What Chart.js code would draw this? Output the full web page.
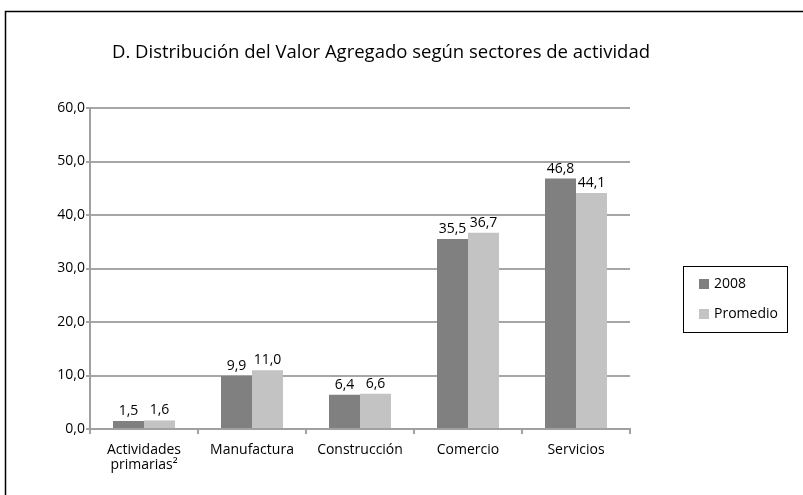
<!DOCTYPE html>
<html><head><meta charset="utf-8">
<script src="https://cdn.jsdelivr.net/npm/chart.js@4/dist/chart.umd.min.js"></script>
<style>html,body{margin:0;padding:0;background:#fff}#wrap{position:relative;width:803px;height:495px}</style>
</head><body><div id="wrap"><canvas id="c" width="803" height="495"></canvas></div>
<script>
const titleText = "D. Distribución del Valor Agregado según sectores de actividad";
const categories = [["Actividades","primarias²"],"Manufactura","Construcción","Comercio","Servicios"];
const series2008 = [1.5, 9.9, 6.4, 35.5, 46.8];
const seriesProm = [1.6, 11.0, 6.6, 36.7, 44.1];
const seriesNames = ["2008","Promedio"];
const yMin = 0, yMax = 60, yStep = 10;

const FONT = "'Open Sans', 'Liberation Sans', sans-serif";
const fmt = v => v.toFixed(1).replace('.', ',');

const extras = {
  id: 'extras',
  beforeDraw(chart){
    const ctx = chart.ctx;
    ctx.save();
    ctx.fillStyle = '#fff';
    ctx.fillRect(0,0,chart.width,chart.height);
    ctx.strokeStyle = '#000'; ctx.lineWidth = 1.5;
    ctx.strokeRect(5.5, 11.5, 900, 600);
    ctx.restore();
  },
  afterDraw(chart){
    const ctx = chart.ctx;
    ctx.save();
    // title
    ctx.fillStyle = '#000';
    ctx.font = "18.5px " + FONT;
    ctx.textAlign = 'center'; ctx.textBaseline = 'middle';
    ctx.fillText(titleText, 381, 53);
    // data labels
    ctx.font = "14px " + FONT;
    ctx.textBaseline = 'bottom';
    chart.data.datasets.forEach((ds, di) => {
      chart.getDatasetMeta(di).data.forEach((bar, i) => {
        ctx.fillText(fmt(ds.data[i]), bar.x, bar.y - 3);
      });
    });
    // legend
    ctx.strokeStyle = '#000'; ctx.lineWidth = 1;
    ctx.strokeRect(683.5, 266.5, 104, 66);
    ctx.textAlign = 'left'; ctx.textBaseline = 'middle';
    ctx.font = "14px " + FONT;
    chart.data.datasets.forEach((ds, di) => {
      const y = 284 + di*30;
      ctx.fillStyle = ds.backgroundColor;
      ctx.fillRect(699, y-5, 10, 10);
      ctx.fillStyle = '#000';
      ctx.fillText(ds.label, 714, y);
    });
    ctx.restore();
  }
};

new Chart(document.getElementById('c'), {
  type: 'bar',
  data: {
    labels: categories,
    datasets: [
      {label: seriesNames[0], data: series2008, backgroundColor: '#808080'},
      {label: seriesNames[1], data: seriesProm, backgroundColor: '#c3c3c3'}
    ]
  },
  options: {
    responsive: false, animation: false,
    layout: {padding: {left: 0, top: 108, right: 173, bottom: 0}},
    plugins: {legend: {display: false}, title: {display: false}, tooltip: {enabled: false}},
    datasets: {bar: {categoryPercentage: 0.574, barPercentage: 1}},
    scales: {
      x: {
        grid: {display: true, drawOnChartArea: false, drawTicks: true, tickLength: 5, color: '#a0a0a0', lineWidth: 2},
        border: {color: '#a0a0a0', width: 2},
        ticks: {color: '#000', font: {family: FONT, size: 14, lineHeight: 1.1}, maxRotation: 0, padding: 8},
        afterFit(s){ s.height = 66; }
      },
      y: {
        min: yMin, max: yMax,
        grid: {color: '#a6a6a6', lineWidth: 2, tickLength: 4, drawTicks: true},
        border: {color: '#a0a0a0', width: 2},
        ticks: {stepSize: yStep, color: '#000', font: {family: FONT, size: 14}, padding: 1, callback: v => fmt(v)},
        afterFit(s){ s.width = 90; }
      }
    }
  },
  plugins: [extras]
});
</script></body></html>
